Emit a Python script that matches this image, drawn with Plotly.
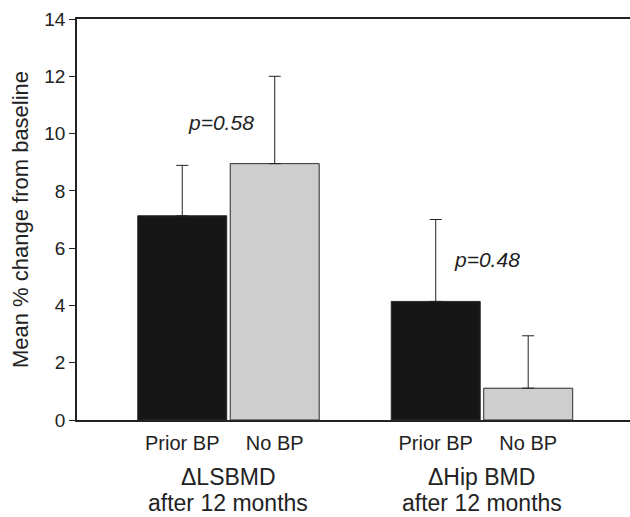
import plotly.graph_objects as go

group_line1 = ["\u0394LSBMD", "\u0394Hip BMD"]
group_line2 = ["after 12 months", "after 12 months"]
series = ["Prior BP", "No BP"]
means = {"Prior BP": [7.13, 4.14], "No BP": [8.95, 1.11]}
upper_err = {"Prior BP": [1.76, 2.86], "No BP": [3.05, 1.83]}
p_labels = ["p=0.58", "p=0.48"]
p_y = [10.4, 5.6]
colors = {"Prior BP": "#161616", "No BP": "#cdcecd"}

group_x = [0, 1]
offset = {"Prior BP": -0.1824, "No BP": 0.1824}
bar_w = 0.351

fig = go.Figure()
for s in series:
    xs = [g + offset[s] for g in group_x]
    fig.add_trace(go.Bar(
        x=xs, y=means[s], width=bar_w, name=s,
        marker=dict(color=colors[s], line=dict(color="#2a2a2a", width=1)),
        error_y=dict(type="data", array=upper_err[s], arrayminus=[0] * len(xs),
                     symmetric=False, color="#222222", thickness=1, width=6),
        showlegend=False,
    ))

tickvals = []
ticktext = []
for g in group_x:
    for s in series:
        tickvals.append(g + offset[s])
        ticktext.append(s)

for g, l1, l2 in zip(group_x, group_line1, group_line2):
    fig.add_annotation(x=g, y=-0.142, xref="x", yref="paper", text=l1,
                       showarrow=False, yanchor="middle", borderpad=0,
                       font=dict(size=23, color="#222222"))
    fig.add_annotation(x=g, y=-0.206, xref="x", yref="paper", text=l2,
                       showarrow=False, yanchor="middle", borderpad=0,
                       font=dict(size=23, color="#222222"))

p_x = [-0.03, 1.02]
for px, py, lab in zip(p_x, p_y, p_labels):
    fig.add_annotation(x=px, y=py, text="<i>" + lab + "</i>", showarrow=False,
                       font=dict(size=21, color="#222222"))

fig.update_layout(
    width=630, height=517,
    margin=dict(l=77, r=0, t=19, b=97),
    plot_bgcolor="white", paper_bgcolor="white",
    font=dict(family="Liberation Sans, Arial, sans-serif", size=19, color="#222222"),
    xaxis=dict(range=[-0.5976, 1.584], tickvals=tickvals, ticktext=ticktext,
               showline=True, linecolor="#222222", linewidth=1.5, mirror=True,
               ticks="", showgrid=False, zeroline=False, tickfont=dict(size=20),
               ticklabelstandoff=4),
    yaxis=dict(range=[0, 14], tickvals=list(range(0, 15, 2)),
               showline=True, linecolor="#222222", linewidth=1.5,
               ticks="outside", ticklen=6, tickcolor="#222222",
               showgrid=False, zeroline=False, tickfont=dict(size=19),
               title=dict(text="Mean % change from baseline", standoff=10,
                          font=dict(size=22))),
)

fig.write_html("out.html")
